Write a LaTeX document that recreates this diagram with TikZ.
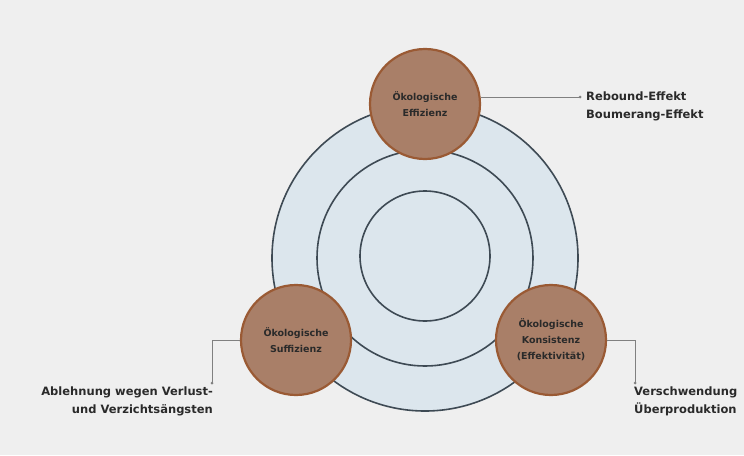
\documentclass[tikz,border=0pt]{standalone}
\usepackage{fontspec}
\setmainfont{DejaVu Sans}
\definecolor{bgcol}{HTML}{EFEFEF}
\definecolor{ringfill}{HTML}{DCE6ED}
\definecolor{ringline}{HTML}{3E4A54}
\definecolor{brownfill}{HTML}{A97F68}
\definecolor{brownline}{HTML}{9A5A34}
\definecolor{leadline}{HTML}{808080}
\definecolor{txt}{HTML}{2A2A2A}
\tikzset{
  ring/.style={circle, draw=ringline, line width=1.6pt, inner sep=0pt},
  pillar/.style={circle, draw=brownline, line width=2.2pt, fill=brownfill,
    minimum size=110pt, inner sep=0pt, align=center, text=txt,
    font=\fontsize{9.5}{16}\selectfont\bfseries},
  lead/.style={draw=leadline, line width=0.8pt},
  leadend/.style={circle, fill=leadline, inner sep=0pt, minimum size=3pt},
  note/.style={font=\fontsize{11.5}{18}\selectfont\bfseries, text=txt, inner sep=0pt}
}
\begin{document}
\begin{tikzpicture}[x=1pt, y=-1pt]
  \fill[bgcol] (0,0) rectangle (744,455);
  \useasboundingbox (0,0) rectangle (744,455);

  % concentric rings
  \node[ring, fill=ringfill, minimum size=306pt] (outer) at (425,258) {};
  \node[ring, minimum size=216pt] (middle) at (425,258) {};
  \node[ring, minimum size=130pt] (inner) at (425,256) {};

  % the three pillars
  \node[pillar] (eff) at (425,104) {Ökologische\\Effizienz};
  \node[pillar] (suf) at (296,340) {Ökologische\\Suffizienz};
  \node[pillar] (kon) at (551,340) {Ökologische\\Konsistenz\\(Effektivität)};

  % leader ends
  \coordinate (effend) at (580,97);
  \coordinate (sufcorner) at (212,340);
  \coordinate (sufend) at (212,383);
  \coordinate (koncorner) at (635,340);
  \coordinate (konend) at (635,383);

  \draw[lead] (eff.east |- effend) -- (effend);
  \draw[lead] (suf.west) -- (sufcorner) -- (sufend);
  \draw[lead] (kon.east) -- (koncorner) -- (konend);
  \node[leadend] at (effend) {};
  \node[leadend] at (sufend) {};
  \node[leadend] at (konend) {};

  % labels
  \node[note, anchor=west, align=left] (effnote) at (586,106)
    {Rebound-Effekt\\Boumerang-Effekt};
  \node[note, anchor=north east, align=right] (sufnote) at (213,387)
    {Ablehnung wegen Verlust-\\und Verzichtsängsten};
  \node[note, anchor=north west, align=left] (konnote) at (634,387)
    {Verschwendung\\Überproduktion};
\end{tikzpicture}
\end{document}
